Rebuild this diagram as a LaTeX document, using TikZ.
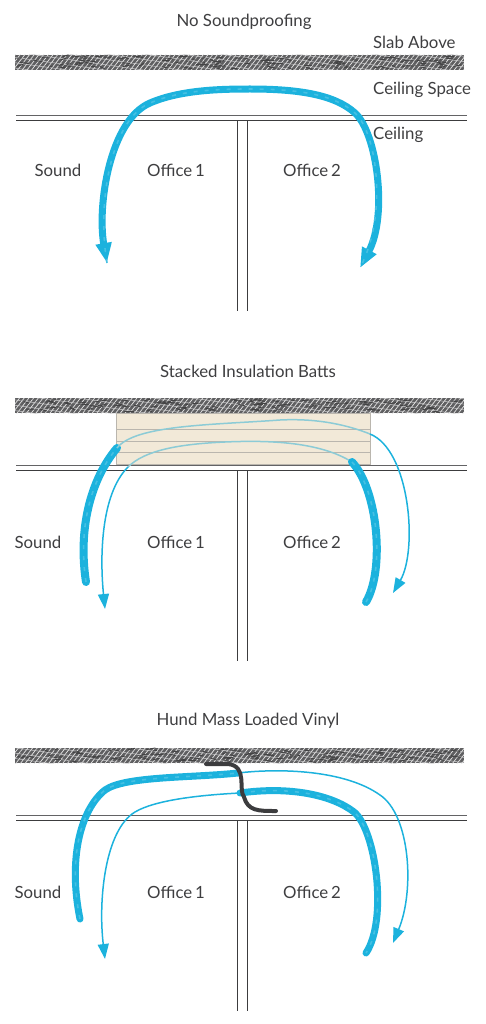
\documentclass[tikz,border=0pt]{standalone}
\usepackage{fontspec}
\setmainfont{Lato}
\usepackage{xcolor}
\usetikzlibrary{arrows.meta, positioning, patterns.meta}
\definecolor{soundblue}{RGB}{28,178,221}
\definecolor{soundpale}{RGB}{140,203,214}
\definecolor{slabgray}{RGB}{95,95,97}
\definecolor{linedark}{RGB}{60,60,62}
\definecolor{labeltext}{RGB}{62,62,64}
\definecolor{battfill}{RGB}{242,233,216}
\definecolor{battline}{RGB}{186,182,174}
\tikzset{
  slab/.style={
    rectangle, minimum width=449pt, minimum height=15pt, inner sep=0pt,
    fill=slabgray,
    postaction={pattern={Lines[angle=52,distance=3.7pt,line width=.7pt]}, pattern color=white!85!slabgray},
    postaction={pattern={Lines[angle=172,distance=5.3pt,line width=.5pt]}, pattern color=white!70!slabgray}
  },
  slabscratch/.style={line width=.9pt, color=slabgray!70!black, line cap=round},
  batt/.style={
    rectangle, minimum width=254pt, inner sep=0pt, outer sep=0pt,
    fill=battfill, draw=battline, line width=.4pt
  },
  label/.style={font=\fontsize{16.8}{20}\selectfont, text=labeltext, inner sep=0pt},
  wall/.style={line width=.9pt, color=linedark},
  soundthick/.style={
    line width=8pt, color=soundblue, line cap=round,
    postaction={draw=soundblue!82!white, -, line width=1.6pt, line cap=butt, dash pattern=on 4pt off 7pt}
  },
  soundthin/.style={line width=1.5pt, color=soundblue},
  soundpaleline/.style={line width=1.5pt, color=soundpale},
  smalltip/.style={-{Triangle[width=11pt,length=15pt]}},
  vinyl/.style={line width=4pt, color=linedark, line cap=round}
}
\begin{document}
\begin{tikzpicture}[x=1pt, y=-1pt]
  \useasboundingbox (0,0) rectangle (486,1024);
  \pgfmathsetseed{7}

  % Slabs, ceilings and walls
  \foreach \p/\dy/\sy in {a/0/62.5, b/350/405.5, c/700/755.5} {
    \node[slab] (slab\p) at (239.5,\sy) {};
    \foreach \i in {1,...,110}
      \draw[slabscratch] ({17+rnd*440},{\sy-6+rnd*12}) -- ++({3+rnd*7},{-2+rnd*4});
    \coordinate (ceilA\p) at (16,115+\dy);
    \coordinate (ceilB\p) at (467,115+\dy);
    \coordinate (ceilC\p) at (16,120.5+\dy);
    \coordinate (ceilD\p) at (467,120.5+\dy);
    \coordinate (wallA\p) at (237.5,120.5+\dy);
    \coordinate (wallB\p) at (237.5,311+\dy);
    \coordinate (wallC\p) at (247,120.5+\dy);
    \coordinate (wallD\p) at (247,311+\dy);
    \draw[wall, color=linedark!80] (ceilA\p) -- (ceilB\p);
    \draw[wall] (ceilC\p) -- (ceilD\p);
    \draw[wall] (wallA\p) -- (wallB\p);
    \draw[wall] (wallC\p) -- (wallD\p);
  }

  % Office labels
  \node[label] (officeAa) at (176,170) {Office\,1};
  \node[label] (officeBa) at (312,170) {Office\,2};
  \node[label] (officeAb) at (176,542) {Office\,1};
  \node[label] (officeBb) at (312,542) {Office\,2};
  \node[label] (officeAc) at (176,892) {Office\,1};
  \node[label] (officeBc) at (312,892) {Office\,2};

  % Batts
  \node[batt, minimum height=16pt] (battA) at (243,421) {};
  \node[batt, minimum height=12pt, below=0pt of battA] (battB) {};
  \node[batt, minimum height=11pt, below=0pt of battB] (battC) {};
  \node[batt, minimum height=12pt, below=0pt of battC] (battD) {};

  % Titles
  \node[label] (titleA) at (244,22) {No Soundproofing};
  \node[label] (titleB) at (248,371) {Stacked Insulation Batts};
  \node[label] (titleC) at (248,721) {Hund Mass Loaded Vinyl};

  % Labels
  \node[label, anchor=west] (slabtext) at (373,42) {Slab Above};
  \node[label, anchor=west] (spacetext) at (373,89.5) {Ceiling Space};
  \node[label, anchor=west] (ceilingtext) at (373,135) {Ceiling};
  \node[label] (soundA) at (58,170) {Sound};
  \node[label] (soundB) at (38,542) {Sound};
  \node[label] (soundC) at (38,892) {Sound};

  % Sound, no soundproofing
  \coordinate (pathAa) at (107,263);
  \coordinate (pathAb) at (360,268);
  \draw[soundthick, line width=7pt, {Triangle[width=15pt,length=20pt]}-{Triangle[width=15pt,length=20pt]}]
    (pathAa) .. controls (97,205) and (110,120) .. (150,103)
    .. controls (180,90) and (220,89) .. (250,89)
    .. controls (300,89) and (335,95) .. (355,113)
    .. controls (377,133) and (388,215) .. (pathAb);

  % Sound, batts
  \coordinate (pathBa) at (86,582);
  \coordinate (pathBb) at (117,448);
  \coordinate (pathBc) at (370,434);
  \coordinate (pathBd) at (393,593);
  \coordinate (pathBe) at (105,609);
  \coordinate (pathBf) at (352,462);
  \coordinate (pathBg) at (366,602);
  \coordinate (pathBh) at (128,467);
  \draw[soundthick] (pathBa) .. controls (78,530) and (90,480) .. (pathBb);
  \draw[soundpaleline] (pathBb) .. controls (135,425) and (210,425) .. (280,420)
    .. controls (320,418) and (350,426) .. (pathBc);
  \draw[soundthin, smalltip] (pathBc) .. controls (410,450) and (418,550) .. (pathBd);
  \draw[soundpaleline] (pathBf) .. controls (320,442) and (270,440) .. (225,442)
    .. controls (180,444) and (145,450) .. (pathBh);
  \draw[soundthin, smalltip] (pathBh) .. controls (100,495) and (100,560) .. (pathBe);
  \draw[soundthick] (pathBf) .. controls (378,490) and (385,570) .. (pathBg);

  % Sound, vinyl
  \coordinate (pathCa) at (80,919);
  \coordinate (pathCb) at (238,773);
  \coordinate (pathCc) at (393,943);
  \coordinate (pathCd) at (105,959);
  \coordinate (pathCe) at (240,793);
  \coordinate (pathCf) at (366,953);
  \draw[soundthick, line width=7pt] (pathCa) .. controls (68,860) and (80,810) .. (105,790)
    .. controls (125,776) and (190,778) .. (pathCb);
  \draw[soundthin, smalltip] (pathCb) .. controls (280,768) and (345,770) .. (380,795)
    .. controls (410,815) and (415,890) .. (pathCc);
  \draw[soundthin, smalltip] (pathCe) .. controls (200,795) and (155,800) .. (135,812)
    .. controls (105,830) and (98,900) .. (pathCd);
  \draw[soundthick, line width=7pt] (pathCe) .. controls (290,786) and (332,795) .. (354,812)
    .. controls (376,830) and (388,920) .. (pathCf);

  % Vinyl
  \coordinate (vinylA) at (206,764);
  \coordinate (vinylB) at (276,811);
  \draw[vinyl] (vinylA) -- (228,764) .. controls (248,766) and (238,790) .. (244,797)
    .. controls (248,811) and (258,811) .. (vinylB);
\end{tikzpicture}
\end{document}
